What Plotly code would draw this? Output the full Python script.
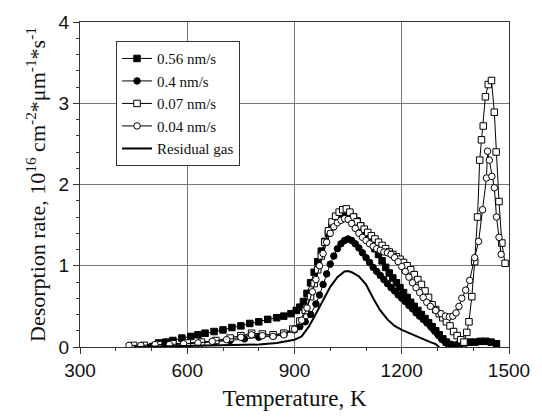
import plotly.graph_objects as go

# 0.56 nm/s (filled squares)
t_056 = [520, 540, 560, 585, 610, 630, 650, 675, 700, 725, 750, 775, 800, 825, 850, 870, 890, 905, 915, 925, 935, 945,
         955, 965, 975, 985, 995, 1005, 1015, 1025, 1035, 1045, 1055, 1065, 1075, 1085, 1095, 1105, 1115, 1125, 1135,
         1145, 1155, 1165, 1175, 1185, 1195, 1205, 1215, 1225, 1235, 1245, 1255, 1265, 1275, 1285, 1295, 1305, 1315,
         1325, 1335, 1345, 1360, 1375, 1390, 1405, 1420, 1435, 1450, 1465]
y_056 = [0.05, 0.06, 0.08, 0.11, 0.13, 0.15, 0.17, 0.19, 0.21, 0.24, 0.26, 0.29, 0.31, 0.34, 0.36, 0.38, 0.41, 0.45,
         0.49, 0.56, 0.66, 0.79, 0.92, 1.05, 1.18, 1.30, 1.40, 1.48, 1.54, 1.58, 1.61, 1.63, 1.63, 1.60, 1.55, 1.49,
         1.42, 1.35, 1.28, 1.21, 1.14, 1.06, 0.98, 0.91, 0.85, 0.79, 0.73, 0.67, 0.61, 0.55, 0.50, 0.45, 0.40, 0.35,
         0.30, 0.25, 0.20, 0.15, 0.10, 0.06, 0.03, 0.02, 0.03, 0.05, 0.06, 0.06, 0.07, 0.07, 0.06, 0.04]

# 0.4 nm/s (filled circles)
t_04 = [470, 500, 530, 560, 600, 640, 680, 720, 760, 800, 840, 870, 900, 915, 930, 945, 960, 970, 980, 990, 1000,
        1010, 1020, 1030, 1040, 1050, 1060, 1070, 1080, 1090, 1100, 1110, 1120, 1130, 1140, 1150, 1160, 1170, 1180,
        1190, 1200, 1210, 1220, 1230, 1240, 1250, 1260, 1270, 1280, 1290, 1300, 1310, 1320, 1330, 1345]
y_04 = [0.01, 0.01, 0.02, 0.03, 0.04, 0.05, 0.07, 0.08, 0.10, 0.12, 0.14, 0.17, 0.21, 0.25, 0.31, 0.40, 0.53, 0.64,
        0.77, 0.90, 1.02, 1.12, 1.21, 1.27, 1.31, 1.33, 1.31, 1.27, 1.22, 1.16, 1.10, 1.04, 0.98, 0.93, 0.88, 0.83,
        0.78, 0.73, 0.69, 0.64, 0.60, 0.56, 0.51, 0.47, 0.42, 0.38, 0.34, 0.30, 0.26, 0.21, 0.16, 0.11, 0.07, 0.03, 0.01]

# 0.07 nm/s (open squares)
t_007 = [450, 480, 520, 560, 600, 640, 680, 720, 750, 780, 810, 840, 870, 895, 915, 930, 945, 955, 965, 975, 985,
         995, 1005, 1015, 1025, 1035, 1045, 1055, 1065, 1075, 1085, 1095, 1105, 1115, 1125, 1135, 1145, 1155, 1165,
         1175, 1185, 1195, 1205, 1215, 1225, 1235, 1245, 1255, 1265, 1275, 1285, 1295, 1305, 1315, 1325, 1335, 1345,
         1355, 1365, 1374, 1382, 1388, 1396, 1404, 1412, 1418, 1423, 1428, 1434, 1442, 1451, 1459, 1464, 1472, 1480,
         1489]
y_007 = [0.02, 0.02, 0.03, 0.04, 0.05, 0.06, 0.08, 0.11, 0.14, 0.17, 0.16, 0.15, 0.17, 0.22, 0.32, 0.45, 0.62, 0.78,
         0.95, 1.12, 1.29, 1.43, 1.54, 1.61, 1.66, 1.69, 1.70, 1.66, 1.60, 1.54, 1.49, 1.45, 1.41, 1.37, 1.33, 1.29,
         1.25, 1.21, 1.17, 1.14, 1.11, 1.08, 1.04, 1.00, 0.95, 0.89, 0.83, 0.77, 0.69, 0.61, 0.52, 0.46, 0.41, 0.36,
         0.31, 0.26, 0.19, 0.14, 0.09, 0.06, 0.18, 0.31, 0.62, 1.05, 1.60, 2.30, 2.55, 2.72, 3.08, 3.23, 3.28, 2.89,
         2.40, 1.79, 1.28, 1.03]

# 0.04 nm/s (open circles)
t_004 = [437, 470, 510, 550, 590, 630, 670, 710, 750, 780, 810, 840, 870, 900, 920, 935, 950, 960, 970, 980, 990,
         1000, 1010, 1020, 1030, 1040, 1050, 1060, 1070, 1080, 1090, 1100, 1110, 1120, 1130, 1140, 1150, 1160, 1170,
         1180, 1190, 1200, 1210, 1220, 1230, 1240, 1250, 1260, 1270, 1280, 1295, 1310, 1322, 1333, 1343, 1352, 1360,
         1368, 1379, 1390, 1404, 1415, 1426, 1437, 1440, 1445, 1452, 1459, 1465, 1472, 1478]
y_004 = [0.02, 0.02, 0.03, 0.03, 0.04, 0.05, 0.07, 0.09, 0.12, 0.15, 0.14, 0.13, 0.15, 0.22, 0.33, 0.48, 0.68, 0.83,
         1.00, 1.15, 1.29, 1.40, 1.48, 1.53, 1.56, 1.58, 1.57, 1.52, 1.46, 1.40, 1.35, 1.31, 1.27, 1.24, 1.21, 1.19,
         1.17, 1.16, 1.14, 1.10, 1.05, 0.99, 0.93, 0.86, 0.79, 0.73, 0.67, 0.61, 0.55, 0.50, 0.45, 0.41, 0.38, 0.37,
         0.38, 0.42, 0.50, 0.60, 0.70, 0.82, 1.10, 1.30, 1.69, 2.08, 2.41, 2.30, 2.10, 1.96, 1.60, 1.35, 1.14]

# Residual gas (solid line)
t_res = [450, 500, 600, 700, 800, 850, 880, 900, 920, 940, 960, 980, 1000, 1020, 1040, 1050, 1060, 1080, 1100,
         1120, 1140, 1160, 1180, 1200, 1230, 1260, 1280, 1295, 1305]
y_res = [0.0, 0.005, 0.01, 0.02, 0.03, 0.05, 0.07, 0.09, 0.13, 0.25, 0.41, 0.58, 0.74, 0.86, 0.93, 0.935, 0.92,
         0.87, 0.77, 0.60, 0.45, 0.34, 0.26, 0.21, 0.15, 0.09, 0.06, 0.035, 0.0]

x_ticks = [300, 600, 900, 1200, 1500]
y_ticks = [0, 1, 2, 3, 4]

fig = go.Figure()

def add_marker_series(x, y, name, symbol, fill):
    fig.add_trace(go.Scatter(
        x=x, y=y, name=name, mode="lines+markers",
        line=dict(color="black", width=1),
        marker=dict(symbol=symbol, size=6.5, color=fill,
                    line=dict(color="black", width=1)),
    ))

add_marker_series(t_056, y_056, "0.56 nm/s", "square", "black")
add_marker_series(t_04, y_04, "0.4 nm/s", "circle", "black")
add_marker_series(t_007, y_007, "0.07 nm/s", "square", "white")
add_marker_series(t_004, y_004, "0.04 nm/s", "circle", "white")
fig.add_trace(go.Scatter(x=t_res, y=y_res, name="Residual gas", mode="lines",
                         line=dict(color="black", width=2)))

axis_common = dict(
    showline=True, linecolor="#333", linewidth=1, mirror=True,
    showgrid=True, gridcolor="#777", gridwidth=1,
    ticks="outside", ticklen=6, tickcolor="#333",
    tickfont=dict(family="Liberation Sans, Arial", size=19, color="#111"),
    zeroline=False,
)

fig.update_xaxes(
    range=[300, 1500], tickvals=x_ticks, ticktext=[str(v) for v in x_ticks],
    minor=dict(dtick=100, ticks="outside", ticklen=3, tickcolor="#333", showgrid=False),
    title=dict(text="Temperature, K", font=dict(family="Liberation Serif, Times New Roman", size=23, color="#111"),
               standoff=10),
    **axis_common,
)
fig.update_yaxes(
    range=[0, 4], tickvals=y_ticks, ticktext=[str(v) for v in y_ticks],
    minor=dict(dtick=0.2, ticks="outside", ticklen=3, tickcolor="#333", showgrid=False),
    title=dict(text="Desorption rate, 10<sup>16</sup> cm<sup>-2</sup>*μm<sup>-1</sup>*s<sup>-1</sup>",
               font=dict(family="Liberation Serif, Times New Roman", size=22, color="#111"), standoff=6),
    **axis_common,
)

fig.update_layout(
    width=542, height=419,
    margin=dict(l=80, r=24, t=18, b=63),
    paper_bgcolor="white", plot_bgcolor="white",
    showlegend=True,
    legend=dict(
        x=0.084, y=0.941, xanchor="left", yanchor="top",
        bgcolor="white", bordercolor="#333", borderwidth=1,
        font=dict(family="Liberation Serif, Times New Roman", size=15, color="#111"),
        itemwidth=30, tracegroupgap=0,
    ),
)

fig.write_html("out.html")
